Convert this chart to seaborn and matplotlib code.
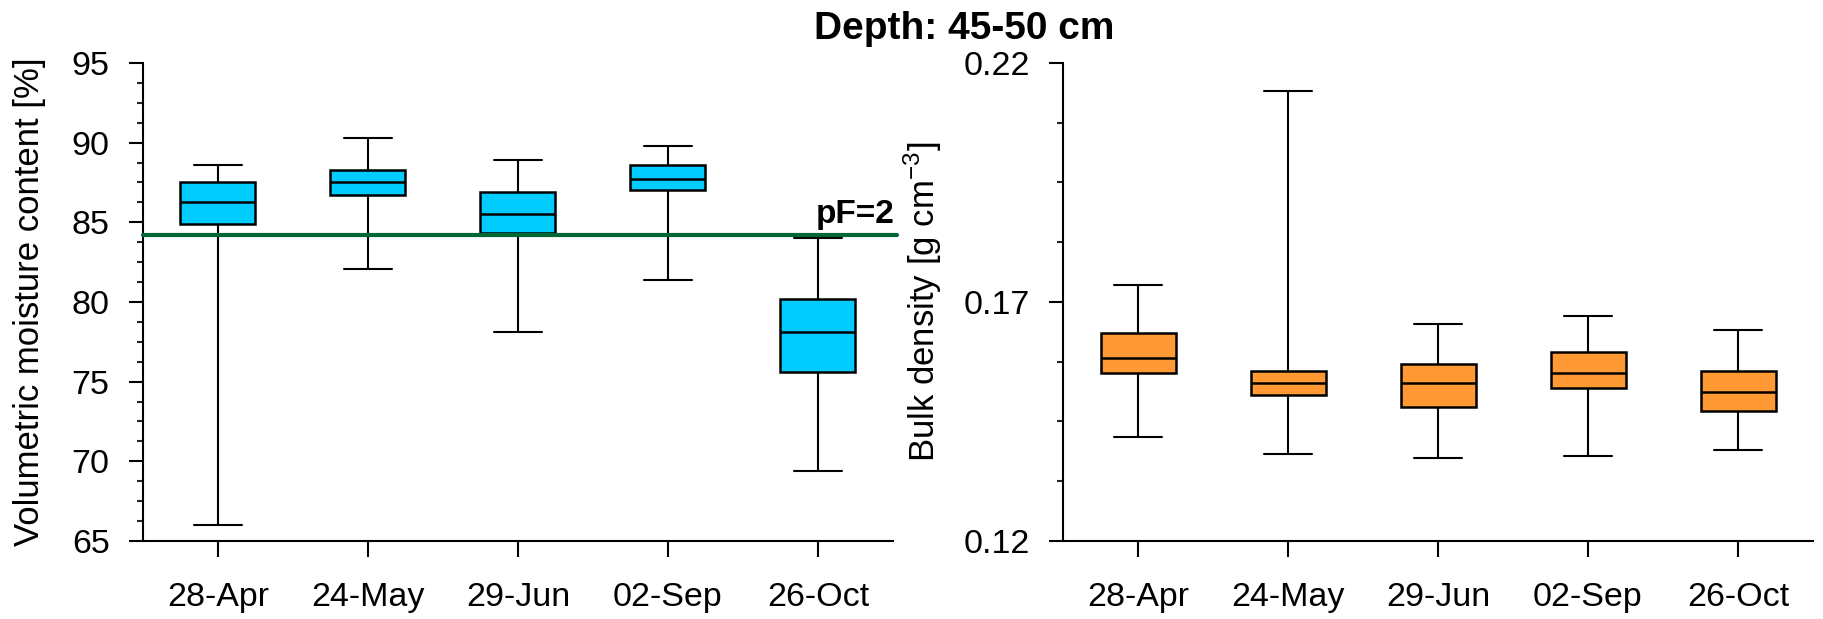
import matplotlib
matplotlib.use("Agg")
import matplotlib.pyplot as plt
from matplotlib.ticker import AutoMinorLocator, FixedLocator, MultipleLocator
import pandas as pd
import seaborn as sns

# Sampling dates
dates = ["28-Apr", "24-May", "29-Jun", "02-Sep", "26-Oct"]

# Volumetric moisture content [%] box statistics per date
moist_min = [66.0, 82.1, 78.1, 81.4, 69.4]
moist_q1 = [84.9, 86.7, 84.3, 87.0, 75.6]
moist_med = [86.3, 87.5, 85.5, 87.7, 78.1]
moist_q3 = [87.5, 88.3, 86.9, 88.6, 80.2]
moist_max = [88.6, 90.3, 88.9, 89.8, 84.0]

# Bulk density [g cm-3] box statistics per date
bd_min = [0.1418, 0.1382, 0.1373, 0.1377, 0.1391]
bd_q1 = [0.1552, 0.1506, 0.1480, 0.1520, 0.1471]
bd_med = [0.1582, 0.1530, 0.1530, 0.1552, 0.1511]
bd_q3 = [0.1635, 0.1556, 0.1570, 0.1596, 0.1556]
bd_max = [0.1735, 0.2142, 0.1654, 0.1671, 0.1641]

# Field capacity threshold (pF=2)
pf2_value = 84.2

# Axis tick values
moist_ticks = [65, 70, 75, 80, 85, 90, 95]
bd_ticks = [0.12, 0.17, 0.22]

title_text = "Depth: 45-50 cm"
moist_label = "Volumetric moisture content [%]"
bd_label = r"Bulk density [g cm$^{\mathregular{-3}}$]"


def long_frame(mins, q1s, meds, q3s, maxs):
    rows = []
    for d, a, b, c, e, f in zip(dates, mins, q1s, meds, q3s, maxs):
        for v in (a, b, c, e, f):
            rows.append({"date": d, "value": v})
    return pd.DataFrame(rows)


moist_df = long_frame(moist_min, moist_q1, moist_med, moist_q3, moist_max)
bd_df = long_frame(bd_min, bd_q1, bd_med, bd_q3, bd_max)

sns.set_theme(style="ticks")
plt.rcParams["font.family"] = ["Liberation Sans", "DejaVu Sans"]
plt.rcParams["mathtext.fontset"] = "custom"
plt.rcParams["mathtext.rm"] = "Liberation Sans"

W, H = 1824, 619
fig = plt.figure(figsize=(W / 100, H / 100), dpi=100)

ax_bottom, ax_top = 541, 63
ax_w = 750
ax1 = fig.add_axes([143 / W, 1 - ax_bottom / H, ax_w / W, (ax_bottom - ax_top) / H])
ax2 = fig.add_axes([1063 / W, 1 - ax_bottom / H, ax_w / W, (ax_bottom - ax_top) / H])

box_kws = dict(
    x="date", y="value", order=dates, width=0.5, whis=(0, 100),
    saturation=1, linecolor="black", linewidth=1.8, capwidths=0.32,
    whiskerprops={"linewidth": 1.5}, capprops={"linewidth": 1.5},
    showfliers=False,
)

sns.boxplot(data=moist_df, ax=ax1, color="#00CCFF", **box_kws)
sns.boxplot(data=bd_df, ax=ax2, color="#FF9933", **box_kws)

# pF=2 reference line
ax1.axhline(pf2_value, xmin=0, xmax=1.005, color="#006633", linewidth=3,
            zorder=5, clip_on=False)
ax1.annotate("pF=2", xy=(1.0, pf2_value), xycoords=("axes fraction", "data"),
             xytext=(1.5, 8.5), textcoords="offset points", ha="right",
             va="baseline", fontsize=24, fontweight="bold", color="black")

ax1.set_ylim(65, 95)
ax1.yaxis.set_major_locator(FixedLocator(moist_ticks))
ax2.set_ylim(0.12, 0.22)
ax2.yaxis.set_major_locator(FixedLocator(bd_ticks))
ax2.yaxis.set_major_formatter(plt.FuncFormatter(lambda v, p: f"{v:.2f}"))

for ax, label, lx in ((ax1, moist_label, -0.1290), (ax2, bd_label, -0.1587)):
    ax.set_xlim(-0.5, 4.5)
    ax.yaxis.set_minor_locator(AutoMinorLocator(4))
    ax.set_xlabel("")
    ax.set_ylabel(label, fontsize=25, color="black")
    ax.yaxis.set_label_coords(lx, 0.5)
    for side in ("top", "right"):
        ax.spines[side].set_visible(False)
    for side in ("left", "bottom"):
        ax.spines[side].set_linewidth(1.5)
        ax.spines[side].set_color("black")
    ax.tick_params(axis="y", which="major", direction="out", length=10,
                   width=1.5, pad=14, labelsize=24.5, colors="black")
    ax.tick_params(axis="y", which="minor", direction="out", length=4.3,
                   width=1.5)
    ax.tick_params(axis="x", which="major", direction="out", length=11.5,
                   width=1.5, pad=18, labelsize=24.5, colors="black")
    ax.set_facecolor("white")

fig.text(964 / W, 1 - 39 / H, title_text, ha="center", va="baseline",
         fontsize=28, fontweight="bold", color="black")

fig.savefig("out.png", dpi=100, facecolor="white")
